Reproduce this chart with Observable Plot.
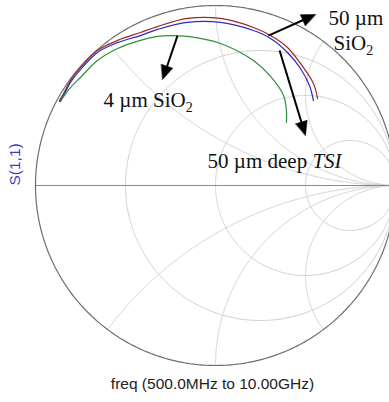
<!DOCTYPE html>
<html>
<head>
<meta charset="utf-8">
<script src="https://cdn.jsdelivr.net/npm/d3@7"></script>
<script src="https://cdn.jsdelivr.net/npm/@observablehq/plot@0.6"></script>
<style>
  body { margin: 0; background: #fff; }
  #chart svg { display: block; }
</style>
</head>
<body>
<div id="chart"></div>
<script>
// S(1,1) traces, 500 MHz → 10 GHz, as real / imaginary parts of the reflection coefficient
const sio2_50_re = [-0.867, -0.844, -0.806, -0.750, -0.656, -0.544, -0.417, -0.322, -0.156, 0.028, 0.211, 0.306, 0.400, 0.472, 0.544, 0.567];
const sio2_50_im = [0.472, 0.511, 0.583, 0.656, 0.750, 0.806, 0.850, 0.883, 0.928, 0.928, 0.878, 0.833, 0.767, 0.678, 0.567, 0.483];

const tsi_50_re = [-0.867, -0.844, -0.806, -0.750, -0.656, -0.544, -0.417, -0.322, -0.156, 0.028, 0.211, 0.306, 0.400, 0.472, 0.522, 0.544];
const tsi_50_im = [0.467, 0.500, 0.572, 0.644, 0.739, 0.794, 0.833, 0.867, 0.906, 0.906, 0.861, 0.817, 0.739, 0.650, 0.556, 0.472];

const sio2_4_re = [-0.861, -0.844, -0.806, -0.750, -0.656, -0.544, -0.417, -0.322, -0.250, -0.156, 0.028, 0.211, 0.306, 0.378, 0.394, 0.394];
const sio2_4_im = [0.467, 0.494, 0.544, 0.600, 0.694, 0.761, 0.806, 0.828, 0.833, 0.828, 0.789, 0.694, 0.606, 0.500, 0.417, 0.350];

const traceNames = ["50 µm SiO2", "50 µm deep TSI", "4 µm SiO2"];
const traceColors = ["#9a2a22", "#2a2ac0", "#2f8f3a"];

// Smith chart grid: constant-resistance circles and constant-reactance arcs
const resistanceTicks = [1 / 3, 1, 3];
const reactanceTicks = [0.5, 1, 2];

const xAxisLabel = "freq (500.0MHz to 10.00GHz)";
const yAxisLabel = "S(1,1)";

// Annotation texts and arrows (positions in the reflection-coefficient plane)
const labelTexts = ["4 µm SiO2", "50 µm", "SiO2", "50 µm deep TSI"];
const labelRe = [-0.622, 0.628, 0.656, -0.044];
const labelIm = [0.475, 0.930, 0.791, 0.136];

const arrowFromRe = [-0.211, 0.294, 0.356];
const arrowFromIm = [0.833, 0.833, 0.750];
const arrowToRe = [-0.294, 0.556, 0.500];
const arrowToIm = [0.589, 0.950, 0.278];

// ---- build tables ----
const gamma = (r, x) => {
  const d = (r + 1) ** 2 + x * x;
  return [(r * r + x * x - 1) / d, (2 * x) / d];
};

const gridRows = [];
const N = 600;
resistanceTicks.forEach((r, k) => {
  for (let i = 1; i < N; i++) {
    const t = -Math.PI / 2 + (Math.PI * i) / N;
    const [re, im] = gamma(r, Math.tan(t));
    gridRows.push({id: "r" + k, re, im});
  }
  gridRows.push({id: "r" + k, re: 1, im: 0});
});
reactanceTicks.flatMap((x) => [x, -x]).forEach((x, k) => {
  for (let i = 0; i < N; i++) {
    const t = (Math.PI / 2) * (i / N);
    const [re, im] = gamma(Math.tan(t), x);
    gridRows.push({id: "x" + k, re, im});
  }
  gridRows.push({id: "x" + k, re: 1, im: 0});
});

const outerRows = d3.range(0, 361).map((a) => ({
  re: Math.cos((a * Math.PI) / 180),
  im: Math.sin((a * Math.PI) / 180)
}));

const traceRe = [sio2_50_re, tsi_50_re, sio2_4_re];
const traceIm = [sio2_50_im, tsi_50_im, sio2_4_im];
const traceRows = traceNames.flatMap((name, k) =>
  traceRe[k].map((re, i) => ({name, re, im: traceIm[k][i]}))
);

const labelRows = labelTexts.map((text, i) => ({text, re: labelRe[i], im: labelIm[i]}));

const headLength = 14;
const headHalfWidth = 6;
const pxPerUnit = 180;
const arrowRows = arrowFromRe.map((_, i) => {
  const dx = (arrowToRe[i] - arrowFromRe[i]) * pxPerUnit;
  const dy = -(arrowToIm[i] - arrowFromIm[i]) * pxPerUnit;
  const len = Math.hypot(dx, dy);
  const back = (headLength * 0.7) / len;
  return {
    x1: arrowFromRe[i],
    y1: arrowFromIm[i],
    x2: arrowToRe[i] - (arrowToRe[i] - arrowFromRe[i]) * back,
    y2: arrowToIm[i] - (arrowToIm[i] - arrowFromIm[i]) * back,
    tipX: arrowToRe[i],
    tipY: arrowToIm[i],
    angle: (Math.atan2(dx, -dy) * 180) / Math.PI
  };
});

const arrowHead = {
  draw(context, l) {
    context.moveTo(0, -l);
    context.lineTo(-headHalfWidth, 0);
    context.lineTo(headHalfWidth, 0);
    context.closePath();
  }
};

const chart = Plot.plot({
  width: 389,
  height: 402,
  marginLeft: 35,
  marginRight: 0,
  marginTop: 5,
  marginBottom: 37,
  x: {domain: [-1, 174 / 180], axis: null},
  y: {domain: [-1, 1], axis: null},
  marks: [
    Plot.line(gridRows, {x: "re", y: "im", z: "id", stroke: "#cfcfcf", strokeWidth: 1}),
    Plot.ruleY([0], {x1: -1, x2: 1, stroke: "#8a8a8a", strokeWidth: 1}),
    Plot.line(outerRows, {x: "re", y: "im", stroke: "#6e6e6e", strokeWidth: 1.2}),
    Plot.line(traceRows, {
      x: "re", y: "im", z: "name",
      stroke: (d) => traceColors[traceNames.indexOf(d.name)],
      strokeWidth: 1.2, curve: "catmull-rom"
    }),
    Plot.link(arrowRows, {x1: "x1", y1: "y1", x2: "x2", y2: "y2", stroke: "black", strokeWidth: 2}),
    Plot.vector(arrowRows, {
      x: "tipX", y: "tipY", rotate: "angle", length: headLength,
      anchor: "end", shape: arrowHead, fill: "black", stroke: "black", strokeWidth: 0.5
    }),
    Plot.text(labelRows, {
      x: "re", y: "im", text: "text", textAnchor: "start",
      fontFamily: "Liberation Serif", fontSize: 21, fill: "#111"
    }),
    Plot.text([yAxisLabel], {
      frameAnchor: "left", dx: -20, rotate: -90,
      fontFamily: "Liberation Sans", fontSize: 15.5, fill: "#3a3ac4"
    }),
    Plot.text([xAxisLabel], {
      frameAnchor: "bottom", dy: 23,
      fontFamily: "Liberation Sans", fontSize: 15.5, fill: "#222"
    })
  ]
});

// Subscripts and italics inside the annotation labels
d3.select(chart).selectAll("text").each(function () {
  const s = this.textContent;
  const el = d3.select(this);
  if (s.endsWith("SiO2")) {
    el.text(null);
    el.append("tspan").text(s.slice(0, -1));
    el.append("tspan").attr("dy", 5).attr("font-size", 14).text("2");
  } else if (s.endsWith("TSI")) {
    el.text(null);
    el.append("tspan").text(s.slice(0, -3));
    el.append("tspan").attr("font-style", "italic").text("TSI");
  }
});

document.getElementById("chart").append(chart);
</script>
</body>
</html>
